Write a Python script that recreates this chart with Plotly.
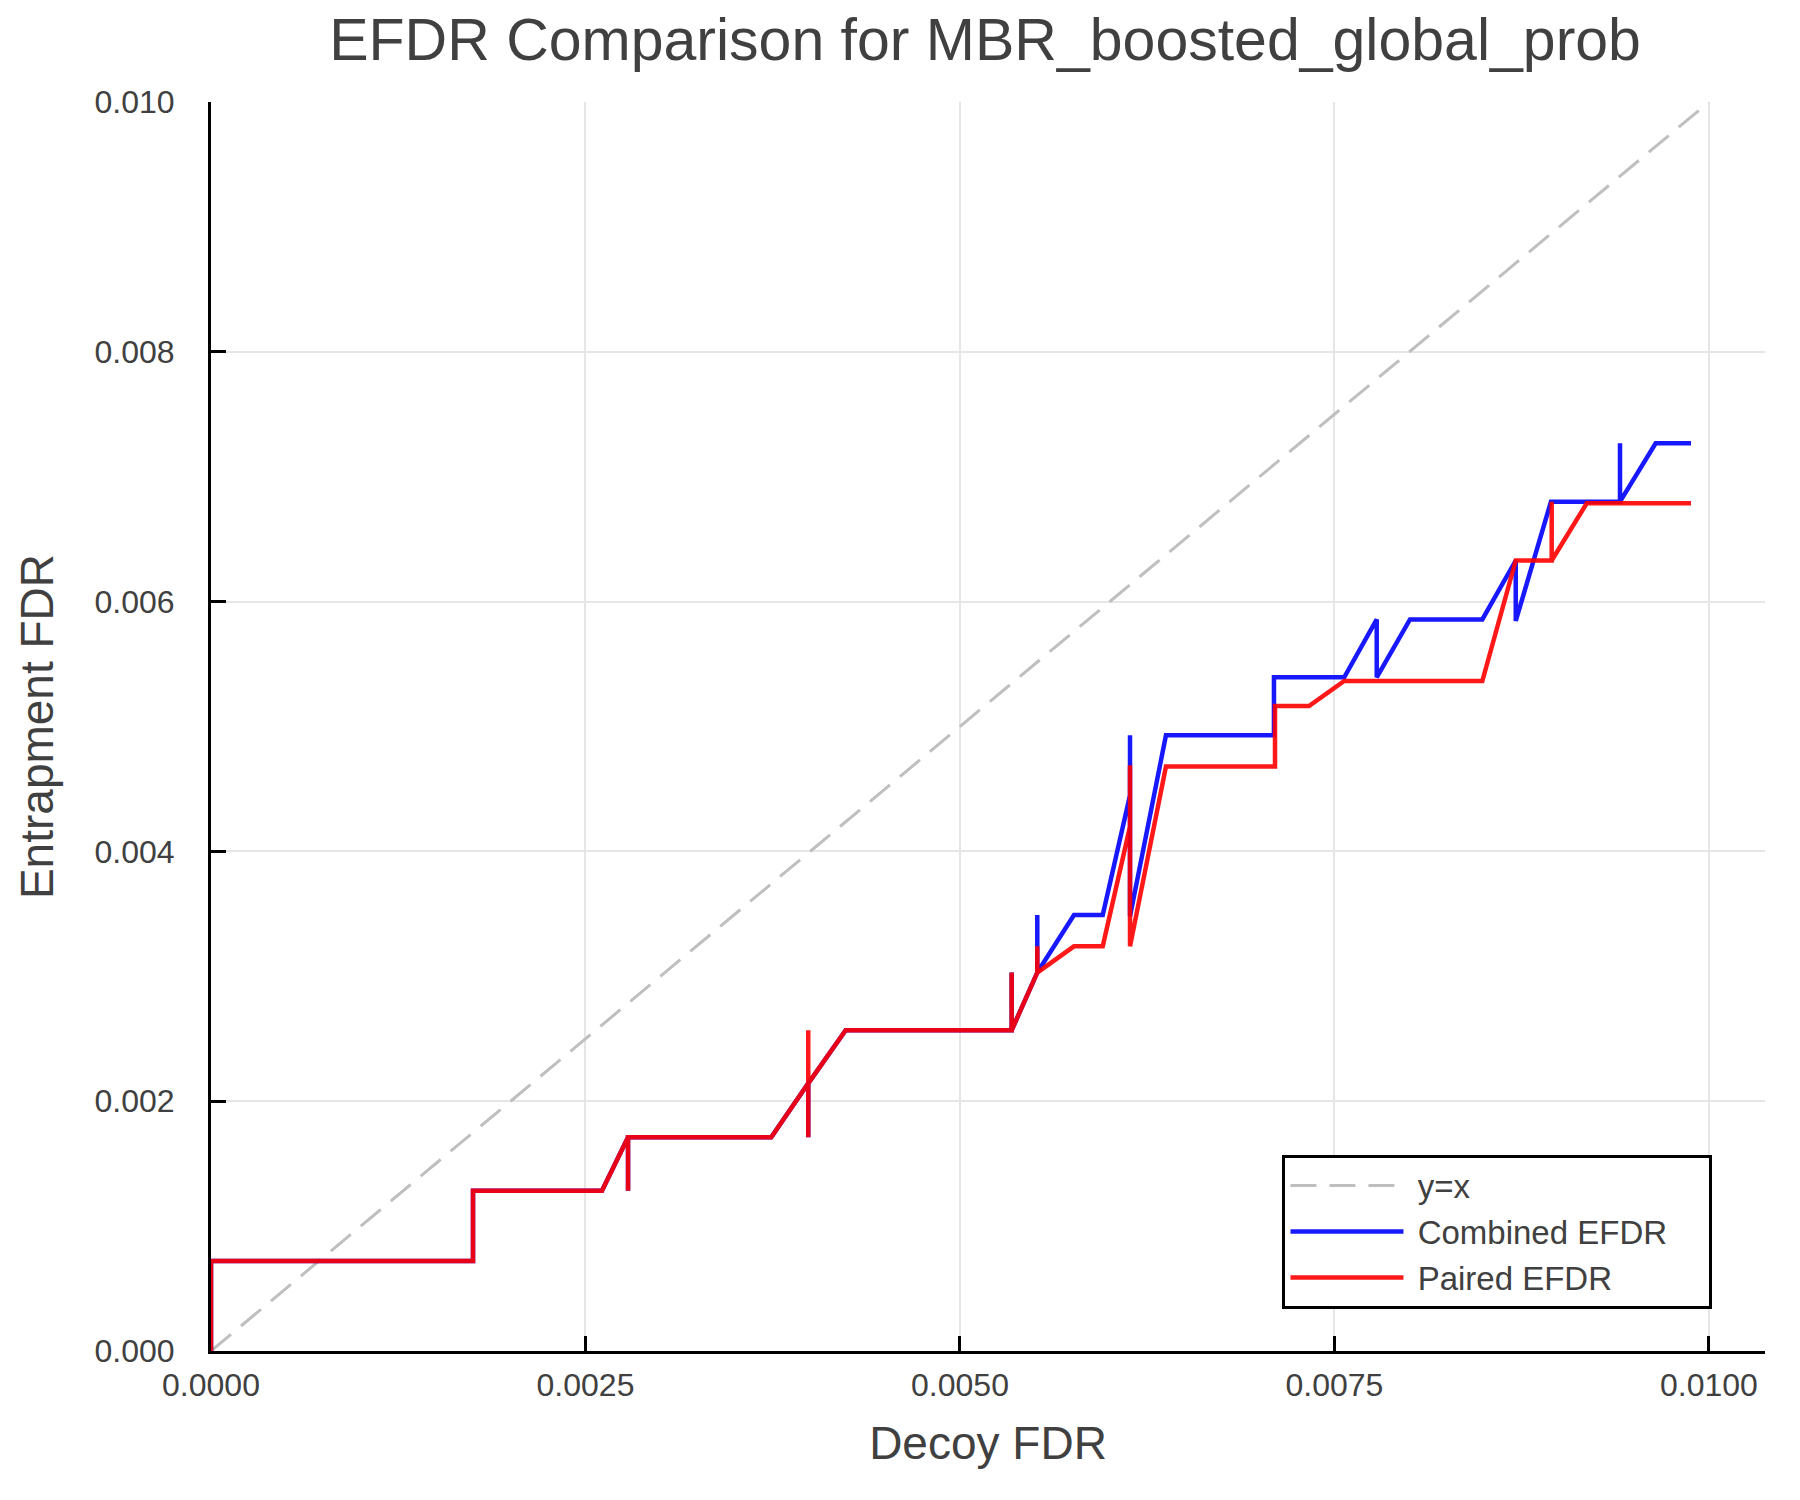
import plotly.graph_objects as go

BLUE, RED, GREY, TEXT = "#0000ff", "#ff0000", "#bfbfbf", "#404040"

# Data
diag_x = [0.0, 0.01]
diag_y = [0.0, 0.01]

combined_x = [0, 0, 0.001749, 0.001749, 0.00261, 0.002784, 0.002784, 0.002784, 0.00374,
              0.003987, 0.003987, 0.003987, 0.004237, 0.005345, 0.005345, 0.005345,
              0.005516, 0.005516, 0.005516, 0.005761, 0.005953, 0.006135, 0.006135, 0.006135,
              0.006375, 0.007096, 0.007096, 0.007565, 0.007782, 0.007782, 0.008004, 0.008487,
              0.00871, 0.00871, 0.008945, 0.009406, 0.009406, 0.009406, 0.009644, 0.00988]
combined_y = [0, 0.00072, 0.00072, 0.001284, 0.001284, 0.001711, 0.001284, 0.001711, 0.001711,
              0.002143, 0.001711, 0.002143, 0.002568, 0.002568, 0.00303, 0.002568,
              0.00303, 0.00349, 0.00303, 0.00349, 0.00349, 0.00445, 0.00493, 0.00348,
              0.00493, 0.00493, 0.005394, 0.005394, 0.005857, 0.005394, 0.005857, 0.005857,
              0.006329, 0.005845, 0.0068, 0.0068, 0.007267, 0.0068, 0.007267, 0.007267]

paired_x = [0, 0, 0.001749, 0.001749, 0.00261, 0.002784, 0.002784, 0.002784, 0.00374,
            0.003987, 0.003987, 0.003987, 0.003987, 0.004237, 0.005345, 0.005345, 0.005345,
            0.005516, 0.005516, 0.005516, 0.005761, 0.005953, 0.006135, 0.006135, 0.006135,
            0.006375, 0.007103, 0.007103, 0.00733, 0.007565, 0.008487, 0.00871,
            0.00895, 0.00895, 0.00895, 0.009184, 0.00988]
paired_y = [0, 0.00072, 0.00072, 0.001284, 0.001284, 0.001711, 0.001284, 0.001711, 0.001711,
            0.002143, 0.001711, 0.002568, 0.002143, 0.002568, 0.002568, 0.00303, 0.002568,
            0.00303, 0.00324, 0.00303, 0.00324, 0.00324, 0.0042, 0.00469, 0.00324,
            0.00468, 0.00468, 0.005164, 0.005164, 0.005364, 0.005364, 0.006329,
            0.006329, 0.0068, 0.006329, 0.006787, 0.006787]

x_ticks = [0.0, 0.0025, 0.005, 0.0075, 0.01]
y_ticks = [0.0, 0.002, 0.004, 0.006, 0.008, 0.01]

NB = "\u00a0"  # non-breaking space, pads legend text like the original box

fig = go.Figure()
fig.add_trace(go.Scatter(x=diag_x, y=diag_y, mode="lines", name=NB + "y=x",
                         line=dict(color=GREY, width=3, dash="26px,13px")))
fig.add_trace(go.Scatter(x=combined_x, y=combined_y, mode="lines",
                         name=NB + "Combined EFDR" + NB * 4,
                         line=dict(color=BLUE, width=4.5), opacity=0.9))
fig.add_trace(go.Scatter(x=paired_x, y=paired_y, mode="lines", name=NB + "Paired EFDR",
                         line=dict(color=RED, width=4.5), opacity=0.9))

axis_common = dict(
    showline=True, linecolor="black", linewidth=3, mirror=False,
    showgrid=True, gridcolor="#e6e6e6", gridwidth=1.5, zeroline=False,
    ticks="inside", ticklen=15, tickwidth=3, tickcolor="black",
    tickfont=dict(size=32, color=TEXT), layer="below traces",
)
fig.update_xaxes(range=[0, 0.010374], tickvals=x_ticks, tickformat=".4f",
                 title=dict(text="Decoy FDR", font=dict(size=46, color=TEXT), standoff=25),
                 ticklabelstandoff=4, **axis_common)
fig.update_yaxes(range=[0, 0.01], tickvals=y_ticks, tickformat=".3f",
                 title=dict(text="Entrapment FDR", font=dict(size=46, color=TEXT), standoff=27),
                 ticklabelstandoff=27, **axis_common)

fig.update_layout(
    title=dict(text="EFDR Comparison for MBR_boosted_global_prob", xref="container", x=0.5428,
               xanchor="center", yref="container", y=0.979, yanchor="middle",
               font=dict(size=59, color=TEXT)),
    font=dict(family="Liberation Sans, Arial, sans-serif", color=TEXT),
    plot_bgcolor="white", paper_bgcolor="white",
    width=1800, height=1500,
    margin=dict(l=203, r=43, t=94, b=157, autoexpand=False),
    legend=dict(x=0.9662, xanchor="right", y=0.0339, yanchor="bottom",
                bgcolor="white", bordercolor="black", borderwidth=3,
                font=dict(size=33, color=TEXT), itemwidth=113,
                tracegroupgap=0),
    showlegend=True,
)

fig.write_html("out.html")
